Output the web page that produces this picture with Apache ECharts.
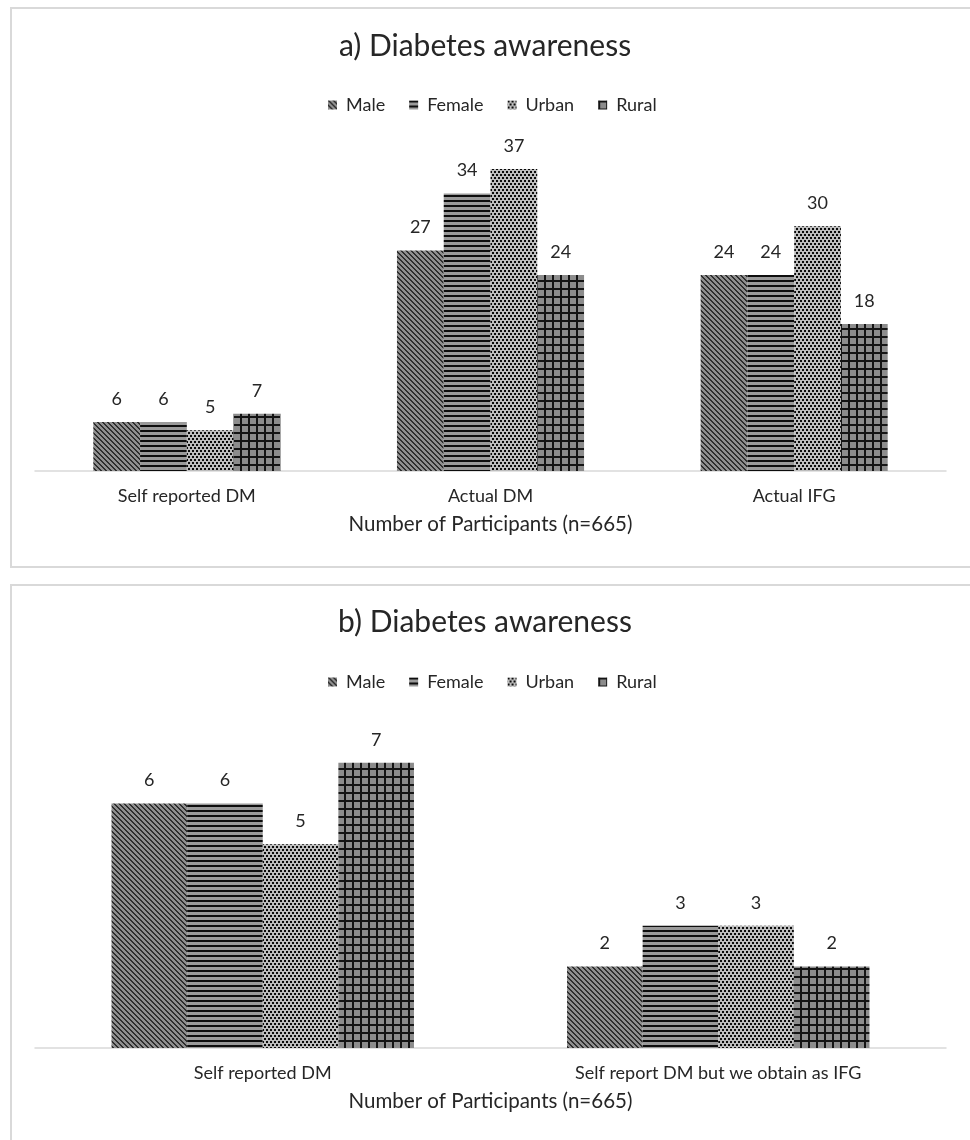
<!DOCTYPE html>
<html>
<head>
<meta charset="utf-8">
<script src="https://cdn.jsdelivr.net/npm/echarts@6/dist/echarts.min.js"></script>
<style>
  html, body { margin: 0; padding: 0; background: #fff; overflow: hidden; }
  #chart { width: 970px; height: 1140px; }
</style>
</head>
<body>
<div id="chart"></div>
<script>
// ---- data ----
const seriesNames = ['Male', 'Female', 'Urban', 'Rural'];

const categoriesA = ['Self reported DM', 'Actual DM', 'Actual IFG'];
const maleA   = [6, 27, 24];
const femaleA = [6, 34, 24];
const urbanA  = [5, 37, 30];
const ruralA  = [7, 24, 18];

const categoriesB = ['Self reported DM', 'Self report DM but we obtain as IFG'];
const maleB   = [6, 2];
const femaleB = [6, 3];
const urbanB  = [5, 3];
const ruralB  = [7, 2];

const titleA = 'a) Diabetes awareness';
const titleB = 'b) Diabetes awareness';
const xAxisTitle = 'Number of Participants (n=665)';

// ---- pattern fills ----
function tile(w, h, draw) {
  const c = document.createElement('canvas');
  c.width = w; c.height = h;
  const g = c.getContext('2d');
  draw(g, w, h);
  return { image: c, repeat: 'repeat' };
}

const fills = {
  // dark downward diagonal
  Male: tile(5, 5, (g, w, h) => {
    g.fillStyle = '#8f8f8f'; g.fillRect(0, 0, w, h);
    g.fillStyle = '#2e2e2e';
    for (let y = 0; y < h; y++) {
      for (let k = 0; k < 2; k++) g.fillRect((y + k) % w, y, 1, 1);
    }
  }),
  // dark horizontal stripes
  Female: tile(4, 5, (g, w, h) => {
    g.fillStyle = '#9a9a9a'; g.fillRect(0, 0, w, h);
    g.fillStyle = '#0d0d0d'; g.fillRect(0, 0, w, 2);
  }),
  // confetti dots
  Urban: tile(8, 6, (g, w, h) => {
    g.fillStyle = '#bdbdbd'; g.fillRect(0, 0, w, h);
    g.fillStyle = '#0a0a0a';
    [[0, 0], [4, 0], [2, 3], [6, 3]].forEach(([x, y]) => g.fillRect(x, y, 2, 2));
  }),
  // grid
  Rural: tile(8, 8, (g, w, h) => {
    g.fillStyle = '#8c8c8c'; g.fillRect(0, 0, w, h);
    g.fillStyle = '#141414';
    g.fillRect(0, 0, w, 2);
    g.fillRect(0, 0, 2, h);
  })
};

const FONT = 'Lato';
const TEXT = '#262626';
const AXIS_LINE = '#d9d9d9';

function makeSeries(values, gridIdx, barWidth) {
  return seriesNames.map((name, i) => ({
    name: name,
    type: 'bar',
    xAxisIndex: gridIdx,
    yAxisIndex: gridIdx,
    data: values[i],
    barWidth: barWidth,
    barGap: '0%',
    itemStyle: { color: fills[name] },
    label: {
      show: true,
      position: 'top',
      distance: 14,
      color: TEXT,
      fontFamily: FONT,
      fontSize: 18
    },
    emphasis: { disabled: true },
    animation: false
  }));
}

function xAxisFor(cats, gridIdx) {
  return {
    type: 'category',
    gridIndex: gridIdx,
    data: cats,
    axisLine: { lineStyle: { color: AXIS_LINE, width: 1.5 } },
    axisTick: { show: false },
    axisLabel: { color: TEXT, fontFamily: FONT, fontSize: 18, margin: 16 },
    name: xAxisTitle,
    nameLocation: 'middle',
    nameGap: 43,
    nameTextStyle: { color: TEXT, fontFamily: FONT, fontSize: 20.5 }
  };
}

function yAxisFor(max, gridIdx) {
  return {
    type: 'value',
    gridIndex: gridIdx,
    min: 0,
    max: max,
    show: false,
    splitLine: { show: false }
  };
}

function legendAt(top) {
  return {
    top: top,
    left: 323,
    data: seriesNames,
    icon: 'rect',
    itemWidth: 9,
    itemHeight: 9,
    itemGap: 24,
    selectedMode: false,
    textStyle: { color: TEXT, fontFamily: FONT, fontSize: 18, padding: [0, 0, 0, 4] }
  };
}

const chart = echarts.init(document.getElementById('chart'), null, { renderer: 'canvas' });

chart.setOption({
  backgroundColor: '#ffffff',
  animation: false,
  title: [
    { text: titleA, left: 'center', top: 26, textStyle: { color: TEXT, fontFamily: FONT, fontSize: 30, fontWeight: 'normal' } },
    { text: titleB, left: 'center', top: 602, textStyle: { color: TEXT, fontFamily: FONT, fontSize: 30, fontWeight: 'normal' } }
  ],
  legend: [legendAt(91), legendAt(668)],
  grid: [
    { left: 35, right: 24, top: 144.5, height: 326.5, containLabel: false },
    { left: 35, right: 24, top: 722, height: 326, containLabel: false }
  ],
  xAxis: [xAxisFor(categoriesA, 0), xAxisFor(categoriesB, 1)],
  yAxis: [yAxisFor(40, 0), yAxisFor(8, 1)],
  series: [
    ...makeSeries([maleA, femaleA, urbanA, ruralA], 0, '15.4%'),
    ...makeSeries([maleB, femaleB, urbanB, ruralB], 1, '16.6%')
  ],
  graphic: [
    { type: 'rect', silent: true, z: -1, shape: { x: 11, y: 8, width: 1000, height: 559 },
      style: { fill: null, stroke: '#d9d9d9', lineWidth: 2 } },
    { type: 'rect', silent: true, z: -1, shape: { x: 11, y: 585, width: 1000, height: 700 },
      style: { fill: null, stroke: '#d9d9d9', lineWidth: 2 } }
  ]
});
</script>
</body>
</html>
